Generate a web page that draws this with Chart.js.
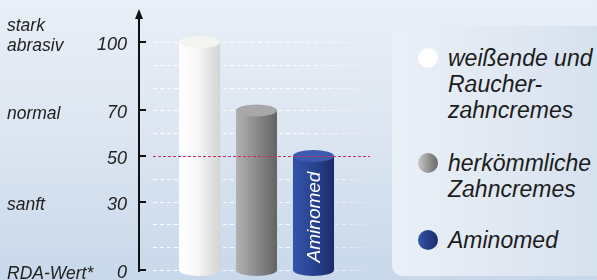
<!DOCTYPE html>
<html><head><meta charset="utf-8">
<script src="https://cdn.jsdelivr.net/npm/chart.js@4"></script>
<style>
html,body{margin:0;padding:0;}
body{width:597px;height:280px;overflow:hidden;position:relative;font-family:"Liberation Sans",Arial,sans-serif;
 background:linear-gradient(180deg,#e9eff7 0%,#dce5f1 50%,#c8d8ea 100%);}
#c{position:absolute;left:0;top:0;}
#legend{position:absolute;left:392px;top:26px;width:230px;height:250px;border-radius:11px;
 background:linear-gradient(90deg,#eaf0f7 0%,#dfe7f2 55%,#d3dfed 100%);}
.dot{position:absolute;left:26px;width:20px;height:20px;border-radius:50%;}
.txt{position:absolute;left:56px;font-style:italic;font-size:23px;line-height:26px;color:#1c1c1c;white-space:nowrap;}
</style></head>
<body>
<div id="legend"></div>
<canvas id="c" width="597" height="280"></canvas>
<script>
// ---- data ----
const categories = [['weißende und','Raucher-','zahncremes'], ['herkömmliche','Zahncremes'], ['Aminomed']];
const rdaValues = [100, 70, 50];
const tickValues = [0, 30, 50, 70, 100];
const levelLabels = [['RDA-Wert*'], ['sanft'], [], ['normal'], ['stark','abrasiv']]; // one per tick value
const barTexts = ['', '', 'Aminomed'];
const referenceValue = 50;
const gridStep = 10;

// ---- styles ----
const barStops = [['#ffffff','#f7f7f7','#d4d4d4'], ['#b2b2b2','#8f8f8f','#646464'], ['#3453a8','#2a4595','#1b2c6b']];
const topColors = ['#f4f4f2', '#a8a8a8', '#3a5bb0'];
const legendDots = ['radial-gradient(circle at 45% 40%,#ffffff 0%,#ffffff 60%,#f0f0f0 100%)',
  'linear-gradient(90deg,#c8c8c8,#666666)', 'linear-gradient(90deg,#3454a8,#1b2c6b)'];
const legendTops = [19, 124, 201];

// legend (HTML text)
const lg = document.getElementById('legend');
categories.forEach((lines, i) => {
  const d = document.createElement('div'); d.className = 'dot';
  d.style.top = (legendTops[i] + 3) + 'px'; d.style.background = legendDots[i];
  lg.appendChild(d);
  const t = document.createElement('div'); t.className = 'txt';
  t.style.top = legendTops[i] + 'px'; t.innerHTML = lines.join('<br>');
  lg.appendChild(t);
});

const BAR_PCT = 0.72;
function barGrad(ctx, i, x0, x1) {
  const g = ctx.createLinearGradient(x0, 0, x1, 0);
  g.addColorStop(0, barStops[i][0]); g.addColorStop(0.45, barStops[i][1]); g.addColorStop(1, barStops[i][2]);
  return g;
}

const decor = {
  id: 'decor',
  beforeDatasetsDraw(chart) {
    const {ctx, chartArea: a} = chart; const y = chart.scales.y;
    const L = a.left - 18, R = a.right + 28;
    const g = ctx.createLinearGradient(L, 0, R, 0);
    g.addColorStop(0, 'rgba(255,255,255,0.95)'); g.addColorStop(0.7, 'rgba(255,255,255,0.85)'); g.addColorStop(1, 'rgba(255,255,255,0.25)');
    ctx.save(); ctx.strokeStyle = g; ctx.lineWidth = 1; ctx.setLineDash([4, 3]);
    for (let v = y.min; v <= y.max; v += gridStep) {
      const py = Math.round(y.getPixelForValue(v)) + 0.5;
      ctx.beginPath(); ctx.moveTo(L, py); ctx.lineTo(R, py); ctx.stroke();
    }
    ctx.restore();
  },
  afterDatasetsDraw(chart) {
    const {ctx, chartArea: a} = chart; const y = chart.scales.y;
    const meta = chart.getDatasetMeta(0);
    ctx.save();
    meta.data.forEach((bar, i) => {
      const p = bar.getProps(['x', 'y', 'base', 'width'], true);
      const rx = p.width / 2, ry = 6;
      ctx.fillStyle = barGrad(ctx, i, p.x - rx, p.x + rx);
      ctx.beginPath(); ctx.ellipse(p.x, p.base, rx, ry, 0, 0, Math.PI); ctx.fill();
      ctx.fillStyle = topColors[i];
      ctx.beginPath(); ctx.ellipse(p.x, p.y, rx, ry, 0, 0, Math.PI * 2); ctx.fill();
    });
    // reference line
    const L = a.left - 18, R = a.right + 28;
    const ry = Math.round(y.getPixelForValue(referenceValue)) + 0.5;
    ctx.strokeStyle = '#c8325f'; ctx.lineWidth = 1; ctx.setLineDash([3, 2]);
    ctx.beginPath(); ctx.moveTo(L, ry); ctx.lineTo(R, ry); ctx.stroke();
    ctx.setLineDash([]);
    // text inside bars
    meta.data.forEach((bar, i) => {
      if (!barTexts[i]) return;
      const p = bar.getProps(['x', 'y', 'base'], true);
      ctx.save(); ctx.translate(p.x + 1, (p.y + p.base) / 2 + 4); ctx.rotate(-Math.PI / 2);
      ctx.fillStyle = '#ffffff'; ctx.font = 'italic 19px "Liberation Sans", Arial, sans-serif';
      ctx.textAlign = 'center'; ctx.textBaseline = 'middle';
      ctx.fillText(barTexts[i], 0, 0); ctx.restore();
    });
    ctx.restore();
  },
  afterDraw(chart) {
    const {ctx, chartArea: a} = chart; const y = chart.scales.y;
    const ax = a.left - 32;
    ctx.save();
    ctx.strokeStyle = '#111'; ctx.fillStyle = '#111'; ctx.lineWidth = 2;
    ctx.beginPath(); ctx.moveTo(ax, a.bottom + 2); ctx.lineTo(ax, a.top - 24); ctx.stroke();
    ctx.beginPath(); ctx.moveTo(ax, a.top - 33); ctx.lineTo(ax - 4, a.top - 23); ctx.lineTo(ax + 4, a.top - 23); ctx.closePath(); ctx.fill();
    tickValues.forEach(v => {
      const py = Math.round(y.getPixelForValue(v));
      ctx.beginPath(); ctx.moveTo(ax - 1, py); ctx.lineTo(ax + 7, py); ctx.stroke();
    });
    // level descriptions
    ctx.fillStyle = '#222'; ctx.font = 'italic 17.5px "Liberation Sans", Arial, sans-serif';
    ctx.textAlign = 'left'; ctx.textBaseline = 'middle';
    tickValues.forEach((v, i) => {
      const lines = levelLabels[i]; const py = y.getPixelForValue(v) + 4;
      lines.forEach((s, k) => ctx.fillText(s, 7, py - (lines.length - 1 - k) * 20));
    });
    ctx.restore();
  }
};

new Chart(document.getElementById('c'), {
  type: 'bar',
  data: {
    labels: categories.map(c => c.join(' ')),
    datasets: [{
      data: rdaValues,
      barPercentage: BAR_PCT, categoryPercentage: 1,
      borderWidth: 0,
      backgroundColor: (c) => {
        const ch = c.chart, xs = ch.scales.x;
        if (!xs || !ch.chartArea) return barStops[c.dataIndex][1];
        const x = xs.getPixelForValue(c.dataIndex);
        const hw = xs.width / categories.length * BAR_PCT / 2;
        return barGrad(ch.ctx, c.dataIndex, x - hw, x + hw);
      }
    }]
  },
  options: {
    responsive: false, animation: false, devicePixelRatio: 1,
    layout: {padding: {left: 0, top: 42, right: 255, bottom: 10}},
    plugins: {legend: {display: false}, tooltip: {enabled: false}},
    scales: {
      x: {display: false, offset: true},
      y: {
        min: 0, max: 100,
        afterFit: s => { s.width = 171; s.paddingTop = 0; s.paddingBottom = 0; },
        afterBuildTicks: s => { s.ticks = tickValues.map(v => ({value: v})); },
        grid: {display: false, drawTicks: false},
        border: {display: false},
        ticks: {padding: 44, labelOffset: 3, color: '#222',
          font: {family: '"Liberation Sans", Arial, sans-serif', size: 18, style: 'italic'}}
      }
    }
  },
  plugins: [decor]
});
</script>
</body></html>
